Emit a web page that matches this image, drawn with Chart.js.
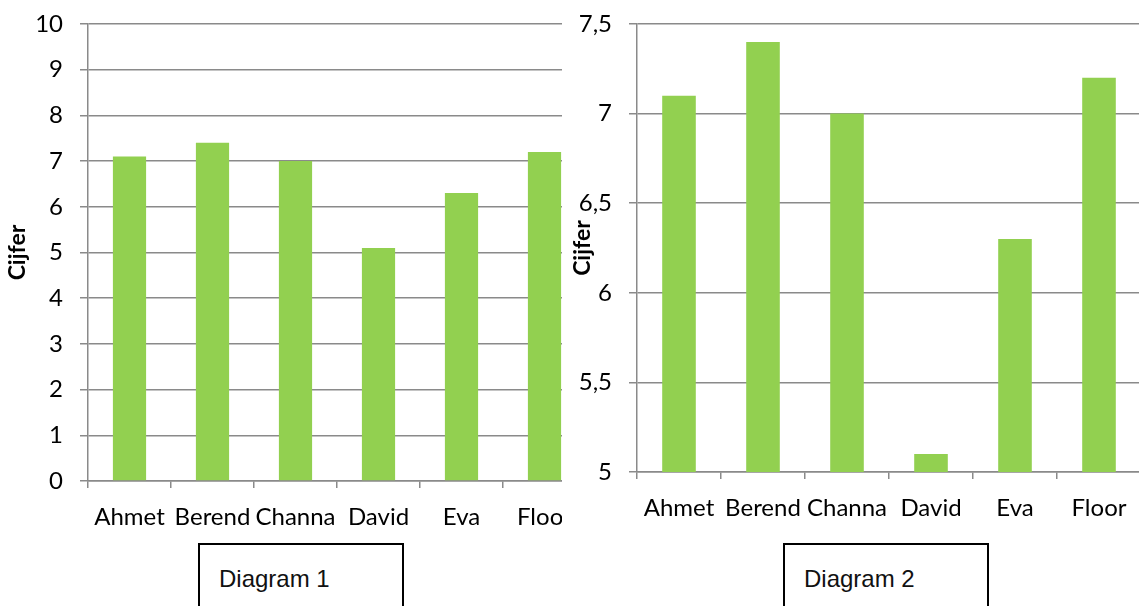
<!DOCTYPE html>
<html>
<head>
<meta charset="utf-8">
<script src="https://cdn.jsdelivr.net/npm/chart.js@4.4.0/dist/chart.umd.min.js"></script>
<style>
  html, body { margin: 0; padding: 0; background: #fff; overflow: hidden; width: 1139px; height: 606px; }
  #wrap1 { position: absolute; left: 0; top: 0; width: 562px; height: 560px; overflow: hidden; }
  #wrap2 { position: absolute; left: 565px; top: 0; width: 600px; height: 560px; }
  .box { position: absolute; top: 543px; width: 206px; height: 90px; border: 2px solid #000;
         font-family: "Liberation Sans", Arial, sans-serif; font-size: 24px; color: #111;
         box-sizing: border-box; padding: 20px 0 0 19px; }
</style>
</head>
<body>
<div id="wrap1"><canvas id="chart1" width="600" height="541" style="width:600px;height:541px"></canvas></div>
<div id="wrap2"><canvas id="chart2" width="590" height="532" style="width:590px;height:532px"></canvas></div>
<div class="box" style="left:198px">Diagram 1</div>
<div class="box" style="left:783px">Diagram 2</div>
<script>
// Data
var names = ['Ahmet', 'Berend', 'Channa', 'David', 'Eva', 'Floor'];
var grades = [7.1, 7.4, 7.0, 5.1, 6.3, 7.2];
var ticksLeft = ['0', '1', '2', '3', '4', '5', '6', '7', '8', '9', '10'];
var ticksRight = ['5', '5,5', '6', '6,5', '7', '7,5'];

var green = '#92D050';
var grey = '#8a8a8a';
var font = { family: 'Lato', size: 24 };

function makeChart(id, yMin, yMax, step, tickLabels, axisWidth) {
  var ctx = document.getElementById(id).getContext('2d');
  return new Chart(ctx, {
    type: 'bar',
    data: {
      labels: names,
      datasets: [{
        label: 'Cijfer',
        data: grades,
        backgroundColor: green,
        barPercentage: 0.4,
        categoryPercentage: 1
      }]
    },
    options: {
      responsive: false,
      animation: false,
      layout: { padding: { top: 24, right: 14, left: 0, bottom: 0 } },
      plugins: { legend: { display: false }, tooltip: { enabled: false } },
      scales: {
        x: {
          grid: { drawOnChartArea: false, color: grey, lineWidth: 1.5, tickLength: 7 },
          border: { color: grey, width: 1.5 },
          ticks: { color: '#000', font: font, padding: 15, maxRotation: 0, autoSkip: false },
          afterFit: function(s) { s.height = 60; s.paddingLeft = 0; s.paddingRight = 0; }
        },
        y: {
          min: yMin,
          max: yMax,
          grid: { color: grey, lineWidth: 1.5, tickLength: 8 },
          border: { color: grey, width: 1.5 },
          ticks: {
            stepSize: step,
            color: '#000',
            font: font,
            padding: 17,
            callback: function(value, index) { return tickLabels[index]; }
          },
          title: {
            display: true,
            text: 'Cijfer',
            color: '#000',
            font: { family: 'Lato', size: 23, weight: 'bold' },
            padding: { top: 4, bottom: 0 }
          },
          afterFit: function(s) { s.width = axisWidth; s.paddingTop = 0; s.paddingBottom = 0; }
        }
      }
    }
  });
}

makeChart('chart1', 0, 10, 1, ticksLeft, 88);
makeChart('chart2', 5, 7.5, 0.5, ticksRight, 72);
</script>
</body>
</html>
